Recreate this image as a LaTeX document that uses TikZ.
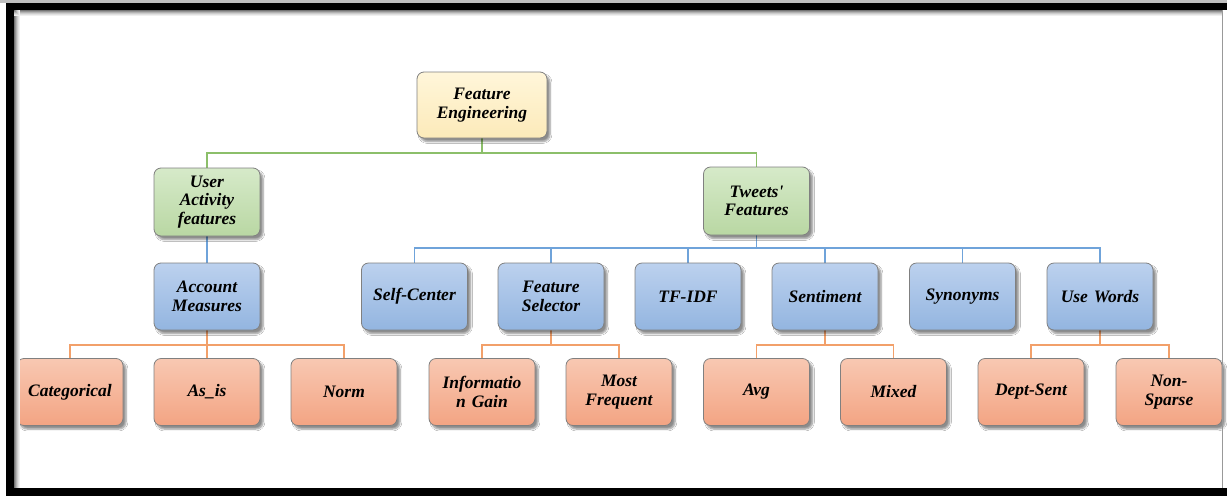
\documentclass[tikz,border=0pt]{standalone}
\usepackage{fontspec}
\setmainfont{Liberation Serif}[BoldFont={* Bold}, ItalicFont={* Italic}, BoldItalicFont={* Bold Italic}]
\newfontfamily\boxfont{Liberation Serif Bold Italic}
\usetikzlibrary{shadows.blur}
\definecolor{ylwT}{HTML}{FFF6DA}
\definecolor{ylwB}{HTML}{FCEAB9}
\definecolor{grnT}{HTML}{D6EAC9}
\definecolor{grnB}{HTML}{B9D7A3}
\definecolor{bluT}{HTML}{BCD1EE}
\definecolor{bluB}{HTML}{93B5E0}
\definecolor{orgT}{HTML}{F8C8B2}
\definecolor{orgB}{HTML}{F3A483}
\definecolor{grnL}{HTML}{8CBF6A}
\definecolor{bluL}{HTML}{6FA3DA}
\definecolor{orgL}{HTML}{F2A06A}
\pgfdeclarelayer{bg}
\pgfsetlayers{bg,main}
\begin{document}
\begin{tikzpicture}[x=1pt,y=-1pt,
  box/.style={draw=black!50, line width=0.8pt, rounded corners=7pt,
    minimum width=106pt, minimum height=67pt, inner sep=1pt,
    text width=103pt, align=center,
    font=\boxfont\fontsize{17.5}{18.5}\selectfont,
    blur shadow={shadow xshift=3pt, shadow yshift=-3.5pt, shadow blur steps=6, shadow opacity=45}},
  ybox/.style={box, top color=ylwT, bottom color=ylwB},
  gbox/.style={box, top color=grnT, bottom color=grnB},
  bbox/.style={box, top color=bluT, bottom color=bluB},
  obox/.style={box, top color=orgT, bottom color=orgB},
  gl/.style={draw=grnL, line width=1.2pt},
  bl/.style={draw=bluL, line width=1.2pt},
  ol/.style={draw=orgL, line width=1.2pt}]
\useasboundingbox (0,0) rectangle (1227,496);
% nodes
\node[ybox, minimum width=130pt, minimum height=66pt] (fe) at (482,105) {Feature\\Engineering};
\node[gbox, minimum height=68pt] (ua) at (207,202) {User\\Activity\\features};
\node[gbox, minimum height=68pt] (tw) at (756.5,201) {Tweets\char"0027\\Features};
\node[bbox] (am) at (207,296.5) {Account\\Measures};
\node[bbox] (sc) at (414.5,296.5) {Self-Center};
\node[bbox] (fs) at (551,296.5) {Feature\\Selector};
\node[bbox] (tf) at (688,296.5) {TF-IDF};
\node[bbox] (se) at (825,296.5) {Sentiment};
\node[bbox] (sy) at (962.5,296.5) {Synonyms};
\node[bbox] (uw) at (1100,296.5) {Use Words};
\node[obox] (cat) at (70,392) {Categorical};
\node[obox] (asis) at (207,392) {As\_is};
\node[obox] (norm) at (344,392) {Norm};
\node[obox] (ig) at (482,392) {Informatio\\n Gain};
\node[obox] (mf) at (619,392) {Most\\Frequent};
\node[obox] (avg) at (756.5,392) {Avg};
\node[obox] (mix) at (893.5,392) {Mixed};
\node[obox] (ds) at (1031,392) {Dept-Sent};
\node[obox] (ns) at (1169,392) {Non-\\Sparse};
% bus coordinates
\coordinate (gbus) at (482,153);
\coordinate (bbus) at (756.5,248);
\coordinate (ob1) at (207,345);
\coordinate (ob2) at (551,345);
\coordinate (ob3) at (825,345);
\coordinate (ob4) at (1100,345);
\begin{pgfonlayer}{bg}
\fill[white] (0,0) rectangle (1227,496);
\draw[gl] (fe.south) -- (gbus);
\draw[gl] (ua.north) |- (gbus) -| (tw.north);
\draw[bl] (ua.south) -- (am.north);
\draw[bl] (tw.south) -- (bbus);
\draw[bl] (sc.north) |- (bbus) -| (uw.north);
\draw[bl] (fs.north) |- (bbus);
\draw[bl] (tf.north) |- (bbus);
\draw[bl] (se.north) |- (bbus);
\draw[bl] (sy.north) |- (bbus);
\draw[ol] (am.south) -- (ob1);
\draw[ol] (cat.north) |- (ob1) -| (norm.north);
\draw[ol] (asis.north) -- (ob1);
\draw[ol] (fs.south) -- (ob2);
\draw[ol] (ig.north) |- (ob2) -| (mf.north);
\draw[ol] (se.south) -- (ob3);
\draw[ol] (avg.north) |- (ob3) -| (mix.north);
\draw[ol] (uw.south) -- (ob4);
\draw[ol] (ds.north) |- (ob4) -| (ns.north);
\end{pgfonlayer}
% frame
\fill[black!25] (0,0) rectangle (1227,3);
\fill[black] (6,3) rectangle (1227,10);
\fill[black] (6,3) rectangle (14,496);
\fill[black] (6,488) rectangle (1227,496);
\draw[black!40, line width=1pt] (1222.5,10) -- (1222.5,488);
\foreach \i/\c in {0/55,1/42,2/30,3/20,4/12,5/6} {
  \draw[black!\c, line width=1pt] (14,10.5+\i) -- (1222,10.5+\i);
  \draw[black!\c, line width=1pt] (14.5+\i,10) -- (14.5+\i,488);
}
\end{tikzpicture}
\end{document}
